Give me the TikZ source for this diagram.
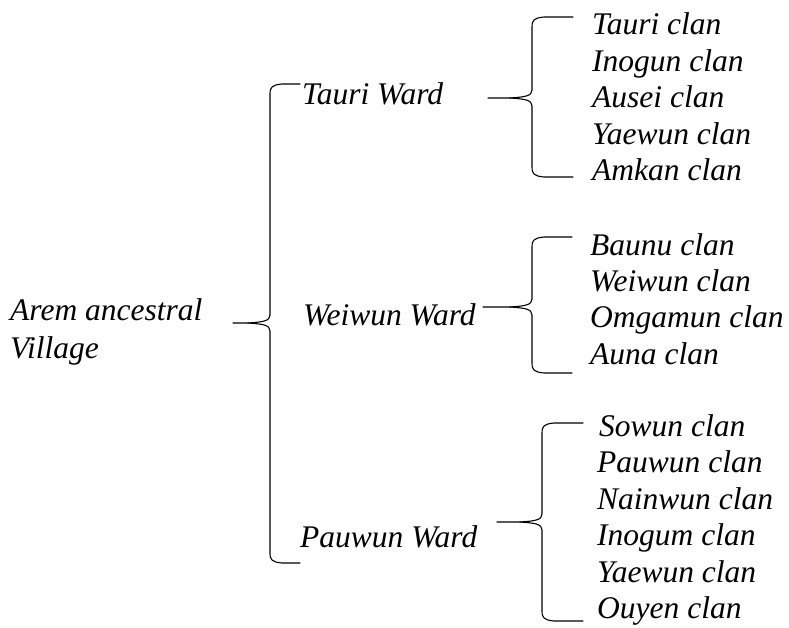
\documentclass[tikz,border=0pt]{standalone}
\usepackage{fontspec}
\setmainfont{Liberation Serif}
\newcommand\mybrace[6]{% x, top, cusp, bottom, hookx, tailx
  \draw[bracepath] (#5,#2) -- ({#1+12},#2) .. controls ({#1+2},{#2+1}) and (#1,{#2+3}) .. (#1,{#2+10})
    -- (#1,{#3-8}) .. controls (#1,{#3-2}) and ({#1-7},{#3-1}) .. ({#1-22},#3) -- (#6,#3);
  \draw[bracepath] ({#1-22},#3) .. controls ({#1-7},{#3+1}) and (#1,{#3+2}) .. (#1,{#3+8})
    -- (#1,{#4-10}) .. controls (#1,{#4-3}) and ({#1+2},{#4-1}) .. ({#1+12},#4) -- (#5,#4);
}
\begin{document}
\begin{tikzpicture}[x=1pt,y=-1pt,
  lbl/.style={anchor=base west,inner sep=0pt,font=\fontsize{31.5}{36}\selectfont\itshape},
  bracepath/.style={line width=1.1pt,line cap=round,line join=round}]
\useasboundingbox (0,0) rectangle (789,627);
% root
\node[lbl] (root1) at (10,320) {Arem ancestral};
\node[lbl] (root2) at (10,358) {Village};
% wards
\node[lbl] (w1) at (302,104) {Tauri Ward};
\node[lbl] (w2) at (303,325) {Weiwun Ward};
\node[lbl] (w3) at (300,547) {Pauwun Ward};
% big brace
\mybrace{270}{84}{323}{563}{300}{233}
% group 1
\mybrace{532}{17}{98}{177}{573}{488}
\node[lbl] (c11) at (592,34) {Tauri clan};
\node[lbl] (c12) at (592,71) {Inogun clan};
\node[lbl] (c13) at (592,107) {Ausei clan};
\node[lbl] (c14) at (592,144) {Yaewun clan};
\node[lbl] (c15) at (592,180) {Amkan clan};
% group 2
\mybrace{532}{237}{307}{373}{572}{483}
\node[lbl] (c21) at (590,255) {Baunu clan};
\node[lbl] (c22) at (590,291) {Weiwun clan};
\node[lbl] (c23) at (590,327) {Omgamun clan};
\node[lbl] (c24) at (590,364) {Auna clan};
% group 3
\mybrace{542}{423}{522}{621}{583}{497}
\node[lbl] (c31) at (599,436) {Sowun clan};
\node[lbl] (c32) at (597,472) {Pauwun clan};
\node[lbl] (c33) at (597,509) {Nainwun clan};
\node[lbl] (c34) at (597,545) {Inogum clan};
\node[lbl] (c35) at (597,582) {Yaewun clan};
\node[lbl] (c36) at (597,618) {Ouyen clan};
\end{tikzpicture}
\end{document}
